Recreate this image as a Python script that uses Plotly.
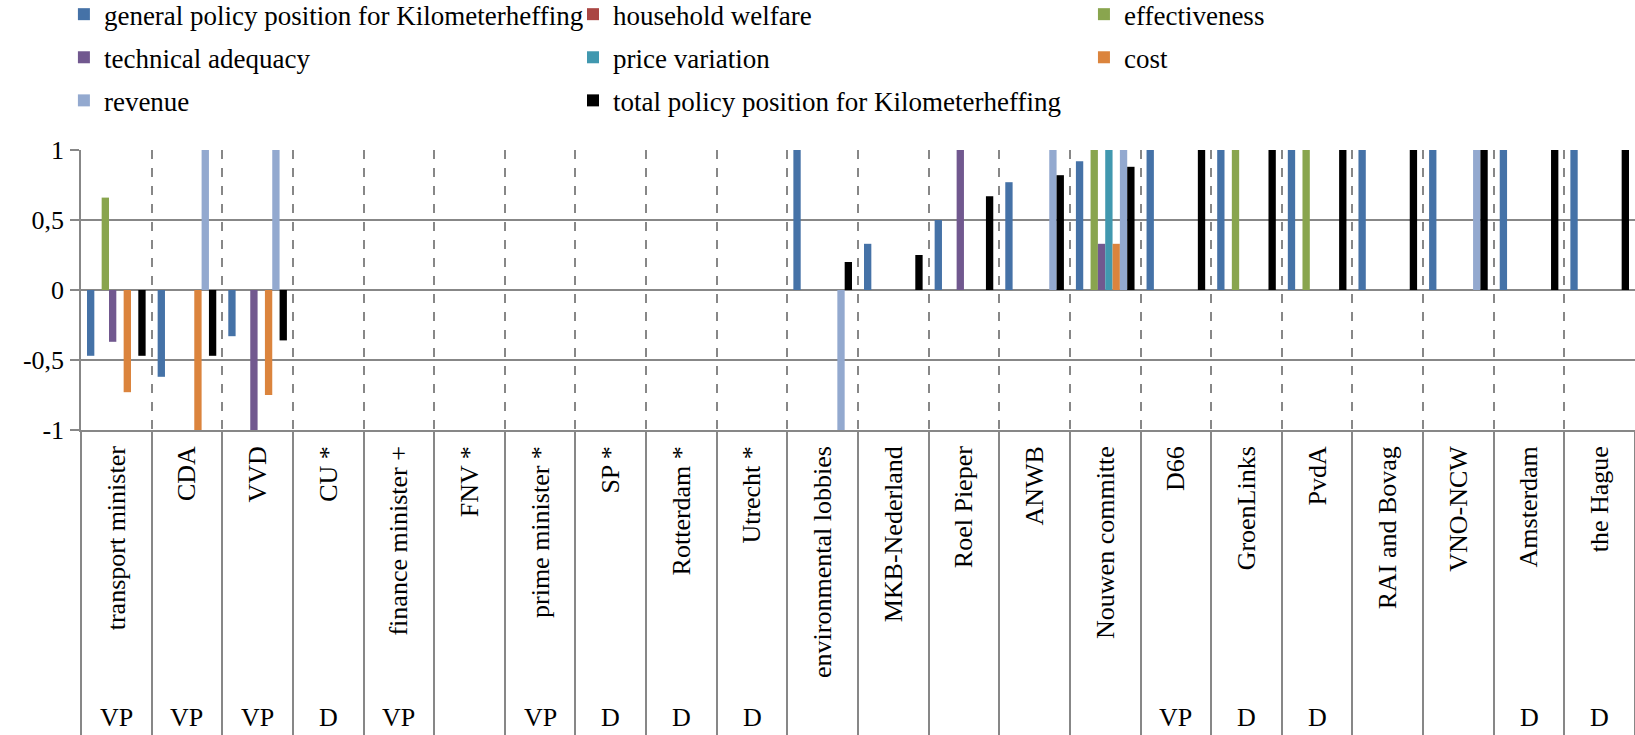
import plotly.graph_objects as go

categories = ["transport minister", "CDA", "VVD", "CU *", "finance minister +", "FNV *",
              "prime minister *", "SP *", "Rotterdam *", "Utrecht *", "environmental lobbies",
              "MKB-Nederland", "Roel Pieper", "ANWB", "Nouwen committe", "D66", "GroenLinks",
              "PvdA", "RAI and Bovag", "VNO-NCW", "Amsterdam", "the Hague"]
roles = ["VP", "VP", "VP", "D", "VP", "", "VP", "D", "D", "D", "", "", "", "", "",
         "VP", "D", "D", "", "", "D", "D"]

general = [-0.47, -0.62, -0.33, 0, 0, 0, 0, 0, 0, 0, 1, 0.33, 0.5, 0.77, 0.92, 1, 1, 1, 1, 1, 1, 1]
household = [0] * 22
effectiveness = [0.66, 0, 0, 0, 0, 0, 0, 0, 0, 0, 0, 0, 0, 0, 1, 0, 1, 1, 0, 0, 0, 0]
technical = [-0.37, 0, -1, 0, 0, 0, 0, 0, 0, 0, 0, 0, 1, 0, 0.33, 0, 0, 0, 0, 0, 0, 0]
price_variation = [0, 0, 0, 0, 0, 0, 0, 0, 0, 0, 0, 0, 0, 0, 1, 0, 0, 0, 0, 0, 0, 0]
cost = [-0.73, -1, -0.75, 0, 0, 0, 0, 0, 0, 0, 0, 0, 0, 0, 0.33, 0, 0, 0, 0, 0, 0, 0]
revenue = [0, 1, 1, 0, 0, 0, 0, 0, 0, 0, -1, 0, 0, 1, 1, 0, 0, 0, 0, 1, 0, 0]
total = [-0.47, -0.47, -0.36, 0, 0, 0, 0, 0, 0, 0, 0.2, 0.25, 0.67, 0.82, 0.88, 1, 1, 1, 1, 1, 1, 1]

series_names = ["general policy position for Kilometerheffing", "household welfare", "effectiveness",
                "technical adequacy", "price variation", "cost", "revenue",
                "total policy position for Kilometerheffing"]
series_values = [general, household, effectiveness, technical, price_variation, cost, revenue, total]
colors = ["#4572A7", "#AA4643", "#89A54E", "#71588F", "#4198AF", "#DB843D", "#93A9CF", "#000000"]
legend_ids = ["legend", "legend2", "legend3", "legend", "legend2", "legend3", "legend", "legend2"]

ytick_vals = [-1, -0.5, 0, 0.5, 1]
ytick_text = ["-1", "-0,5", "0", "0,5", "1"]

FONT = "Liberation Serif"
GRID = "#878787"

fig = go.Figure()
for name, vals, col, lg in zip(series_names, series_values, colors, legend_ids):
    fig.add_trace(go.Bar(
        x=categories, y=vals, name=name, marker=dict(color=col, line=dict(width=0)),
        legend=lg, legendgroup=name, hoverinfo="skip"))

for cat, r in zip(categories, roles):
    if r:
        fig.add_annotation(x=cat, xref="x", y=-1.026, yref="paper", text=r, showarrow=False,
                           font=dict(family=FONT, size=26, color="black"), yanchor="middle")

leg_common = dict(orientation="v", yanchor="top", xanchor="left", bgcolor="rgba(0,0,0,0)",
                  font=dict(family=FONT, size=27, color="black"), tracegroupgap=5,
                  itemwidth=30)
fig.update_layout(
    width=1635, height=735,
    margin=dict(l=81, r=0, t=150, b=305, autoexpand=False),
    paper_bgcolor="white", plot_bgcolor="white",
    barmode="group", bargap=0.17, bargroupgap=0,
    font=dict(family=FONT, size=26, color="black"),
    legend=dict(x=-0.0110, y=1.571, **leg_common),
    legend2=dict(x=0.3166, y=1.571, **leg_common),
    legend3=dict(x=0.6454, y=1.571, **leg_common),
    xaxis=dict(type="category", range=[-0.5, 21.5], tickson="boundaries",
               showgrid=True, griddash="dash", gridcolor=GRID, gridwidth=1.5,
               ticks="outside", ticklen=305, tickcolor=GRID, tickwidth=1.5,
               tickangle=-90, ticklabelstandoff=4,
               tickfont=dict(family=FONT, size=26, color="black"),
               showline=True, linecolor=GRID, linewidth=1.5, automargin=False, fixedrange=True),
    yaxis=dict(range=[-1, 1], tickvals=ytick_vals, ticktext=ytick_text,
               showgrid=True, gridcolor=GRID, gridwidth=1.5, zeroline=False,
               ticks="outside", ticklen=9, tickcolor=GRID, tickwidth=1.5,
               ticklabelstandoff=1,
               tickfont=dict(family=FONT, size=26, color="black"),
               showline=True, linecolor=GRID, linewidth=1.5, automargin=False, fixedrange=True),
)

fig.write_html("out.html", config={"displayModeBar": False},
               post_script="document.body.style.margin='0';")
